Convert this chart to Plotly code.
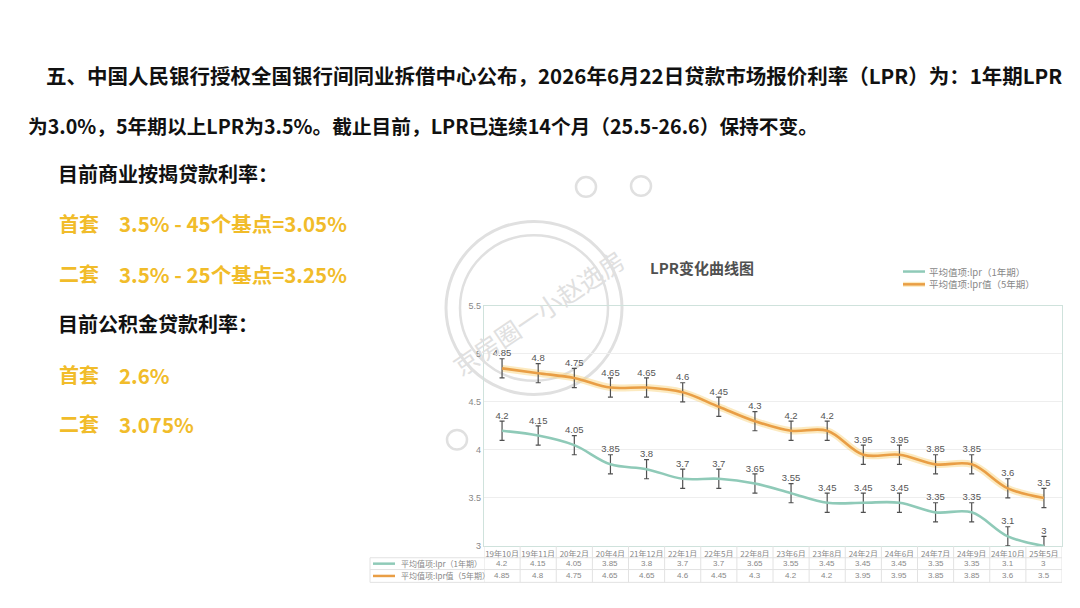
import plotly.graph_objects as go

# ---------------- data ----------------
categories = ['19年10月', '19年11月', '20年2月', '20年4月', '21年12月', '22年1月', '22年5月', '22年8月',
              '23年6月', '23年8月', '24年2月', '24年6月', '24年7月', '24年9月', '24年10月', '25年5月']
lpr_1y = [4.2, 4.15, 4.05, 3.85, 3.8, 3.7, 3.7, 3.65, 3.55, 3.45, 3.45, 3.45, 3.35, 3.35, 3.1, 3.0]
lpr_5y = [4.85, 4.8, 4.75, 4.65, 4.65, 4.6, 4.45, 4.3, 4.2, 4.2, 3.95, 3.95, 3.85, 3.85, 3.6, 3.5]
lpr_1y_labels = ['4.2', '4.15', '4.05', '3.85', '3.8', '3.7', '3.7', '3.65', '3.55', '3.45', '3.45', '3.45', '3.35', '3.35', '3.1', '3']
lpr_5y_labels = ['4.85', '4.8', '4.75', '4.65', '4.65', '4.6', '4.45', '4.3', '4.2', '4.2', '3.95', '3.95', '3.85', '3.85', '3.6', '3.5']
error_value = 0.1
y_ticks = [3, 3.5, 4, 4.5, 5, 5.5]
y_tick_labels = ['3', '3.5', '4', '4.5', '5', '5.5']
series_names = ['平均值项:lpr（1年期）', '平均值项:lpr值（5年期）']
chart_title = 'LPR变化曲线图'

W, H = 1080, 608
def px(x):
    return x / W
def py(y):
    return 1 - y / H

TEAL = '#8FCAB8'
ORANGE = '#E99E45'
GLOW = 'rgba(250,214,130,0.5)'
GOLD = '#F1BC2A'
CJK = 'Noto Sans CJK SC'

fig = go.Figure()

# glow under orange line
fig.add_trace(go.Scatter(x=categories, y=lpr_5y, mode='lines', showlegend=False, hoverinfo='skip',
                         line=dict(color=GLOW, width=7, shape='spline', smoothing=1)))
fig.add_trace(go.Scatter(x=categories, y=lpr_1y, mode='lines', name=series_names[0], showlegend=False,
                         line=dict(color=TEAL, width=2.6, shape='spline', smoothing=1),
                         error_y=dict(type='constant', value=error_value, color='#505050', thickness=1.2, width=2.5)))
fig.add_trace(go.Scatter(x=categories, y=lpr_5y, mode='lines', name=series_names[1], showlegend=False,
                         line=dict(color=ORANGE, width=2.6, shape='spline', smoothing=1),
                         error_y=dict(type='constant', value=error_value, color='#505050', thickness=1.2, width=2.5)))
# data labels above error bars
for vals, labs in ((lpr_1y, lpr_1y_labels), (lpr_5y, lpr_5y_labels)):
    fig.add_trace(go.Scatter(x=categories, y=[v + error_value for v in vals], mode='text', text=labs,
                             textposition='top center', showlegend=False, hoverinfo='skip', cliponaxis=False,
                             textfont=dict(size=9.5, color='#555555', family='Liberation Sans')))

x0p, x1p = px(484), px(1062)
fig.update_layout(
    width=W, height=H, autosize=False,
    margin=dict(l=0, r=0, t=0, b=0),
    paper_bgcolor='white', plot_bgcolor='white',
    font=dict(family=CJK),
    xaxis=dict(domain=[x0p, x1p], type='category', range=[-0.5, len(categories) - 0.5],
               showgrid=False, zeroline=False, showline=True, linecolor='#CFE2DC', mirror=True, linewidth=1.2,
               ticks='', tickfont=dict(size=8, color='#888888'), ticklabelstandoff=0),
    yaxis=dict(domain=[py(550), py(306)], range=[3, 5.5], tickvals=y_ticks, ticktext=y_tick_labels,
               showgrid=True, gridcolor='#EEEEEE', zeroline=False, showline=True, linecolor='#CFE2DC',
               mirror=True, linewidth=1.2, tickfont=dict(size=9, color='#888888', family='Liberation Sans'),
               ticks=''),
    showlegend=False,
)

shapes = []
ann = []

# ---------- watermark ----------
WM = '#E0E0E0'
def circle(cx, cy, r, w):
    shapes.append(dict(type='circle', xref='paper', yref='paper', x0=px(cx - r), x1=px(cx + r),
                       y0=py(cy + r), y1=py(cy - r), line=dict(color=WM, width=w), layer='below'))
circle(534, 308, 88, 3)
circle(534, 308, 74, 2.5)
circle(586, 185, 10, 2.5)
circle(641, 184, 10, 2.5)
circle(457, 442, 10, 2.5)
ann.append(dict(text='京房圈一小赵选房', x=px(538), y=py(312), xref='paper', yref='paper', showarrow=False,
                textangle=-34, font=dict(size=25, color=WM, family=CJK)))

# ---------- legend (top right) ----------
for i, (name, col) in enumerate(zip(series_names, [TEAL, ORANGE])):
    yc = 271 + 13 * i
    if i == 1:
        shapes.append(dict(type='line', xref='paper', yref='paper', x0=px(903), x1=px(925), y0=py(yc), y1=py(yc),
                           line=dict(color=GLOW, width=5)))
    shapes.append(dict(type='line', xref='paper', yref='paper', x0=px(903), x1=px(925), y0=py(yc), y1=py(yc),
                       line=dict(color=col, width=2.5)))
    ann.append(dict(text=name, x=px(927), y=py(yc), xref='paper', yref='paper', xanchor='left', yanchor='middle',
                    showarrow=False, font=dict(size=9.5, color='#888888')))

# ---------- table under chart ----------
TB = '#E2E2E2'
row_y = [550, 562, 574, 587]
for k in range(len(categories) + 1):
    shapes.append(dict(type='line', xref='x', yref='paper', x0=k - 0.5, x1=k - 0.5, y0=py(row_y[0]), y1=py(row_y[3]),
                       line=dict(color=TB, width=1)))
shapes.append(dict(type='line', xref='paper', yref='paper', x0=px(370), x1=px(370), y0=py(row_y[1]), y1=py(row_y[3]),
                   line=dict(color=TB, width=1)))
for yy in row_y[1:]:
    shapes.append(dict(type='line', xref='paper', yref='paper', x0=px(370), x1=x1p, y0=py(yy), y1=py(yy),
                       line=dict(color=TB, width=1)))
for i, (name, col) in enumerate(zip(series_names, [TEAL, ORANGE])):
    yc = (row_y[i + 1] + row_y[i + 2]) / 2
    shapes.append(dict(type='line', xref='paper', yref='paper', x0=px(373), x1=px(395), y0=py(yc), y1=py(yc),
                       line=dict(color=col, width=2.5)))
    ann.append(dict(text=name, x=px(399), y=py(yc), xref='paper', yref='paper', xanchor='left', yanchor='middle',
                    showarrow=False, font=dict(size=8, color='#888888')))
for i, (vals, labs) in enumerate(((lpr_1y, lpr_1y_labels), (lpr_5y, lpr_5y_labels))):
    yc = (row_y[i + 1] + row_y[i + 2]) / 2
    for c, lab in zip(categories, labs):
        ann.append(dict(text=lab, x=c, y=py(yc), xref='x', yref='paper', xanchor='center', yanchor='middle',
                        showarrow=False, font=dict(size=8, color='#888888', family='Liberation Sans')))

# ---------- chart title ----------
ann.append(dict(text='<b>' + chart_title + '</b>', x=px(702), y=py(267), xref='paper', yref='paper',
                showarrow=False, font=dict(size=15, color='#505050', family=CJK)))

# ---------- left text block ----------
def text(t, x, y, size=20, color='#111111', bold=True):
    ann.append(dict(text=('<b>' + t + '</b>') if bold else t, x=px(x), y=py(y - 4), xref='paper', yref='paper',
                    xanchor='left', yanchor='middle', showarrow=False, font=dict(size=size, color=color, family=CJK)))

text('五、中国人民银行授权全国银行间同业拆借中心公布，2026年6月22日贷款市场报价利率（LPR）为：1年期LPR', 44, 75, size=20.5)
text('为3.0%，5年期以上LPR为3.5%。截止目前，LPR已连续14个月（25.5-26.6）保持不变。', 26, 127, size=19.7)
text('目前商业按揭贷款利率：', 56, 175)
text('首套', 57, 226, color=GOLD)
text('3.5% - 45个基点=3.05%', 117, 226, size=20.5, color=GOLD)
text('二套', 57, 277, color=GOLD)
text('3.5% - 25个基点=3.25%', 117, 277, size=20.5, color=GOLD)
text('目前公积金贷款利率：', 56, 328)
text('首套', 57, 380, color=GOLD)
text('2.6%', 117, 380, size=20.5, color=GOLD)
text('二套', 57, 430, color=GOLD)
text('3.075%', 117, 430, size=20.5, color=GOLD)

fig.update_layout(shapes=shapes, annotations=ann)
fig.write_html('out.html', config={'displayModeBar': False},
               post_script="document.body.style.margin='0';document.body.style.padding='0';document.body.style.overflow='hidden';")
